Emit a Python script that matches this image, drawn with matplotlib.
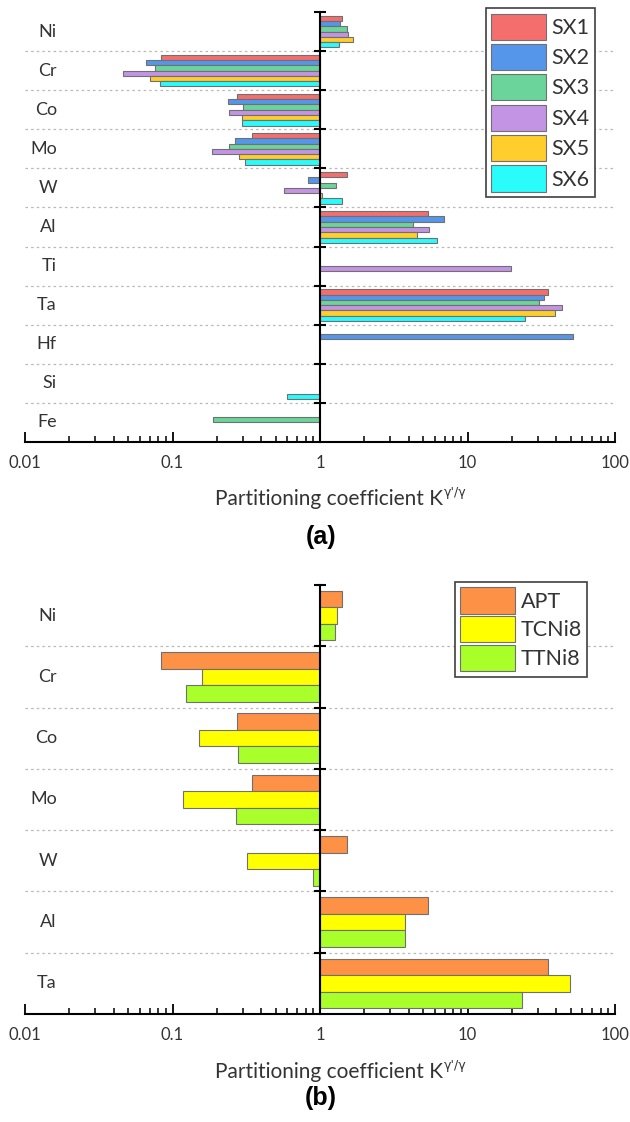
import numpy as np
import matplotlib
matplotlib.use('Agg')
import matplotlib.pyplot as plt
from matplotlib.ticker import LogLocator, NullFormatter, FixedFormatter, FixedLocator
import matplotlib.transforms as mtransforms

plt.rcParams['font.family'] = ['Lato', 'DejaVu Sans']

nan = np.nan

# panel (a): six single crystal alloys
elements_a = ['Ni', 'Cr', 'Co', 'Mo', 'W', 'Al', 'Ti', 'Ta', 'Hf', 'Si', 'Fe']
sx1 = [1.40, 0.084, 0.275, 0.344, 1.52, 5.37, nan, 35.3, nan, nan, nan]
sx2 = [1.37, 0.066, 0.237, 0.267, 0.833, 6.90, nan, 33.0, 51.6, nan, nan]
sx3 = [1.52, 0.076, 0.299, 0.242, 1.28, 4.27, nan, 30.6, nan, nan, 0.189]
sx4 = [1.54, 0.046, 0.240, 0.185, 0.570, 5.45, 19.8, 44.0, nan, nan, nan]
sx5 = [1.67, 0.070, 0.294, 0.284, 1.03, 4.52, nan, 39.5, nan, nan, nan]
sx6 = [1.34, 0.082, 0.294, 0.310, 1.42, 6.24, nan, 24.7, nan, 0.600, nan]
names_a = ['SX1', 'SX2', 'SX3', 'SX4', 'SX5', 'SX6']
colors_a = ['#F56E6E', '#5596EA', '#6AD49A', '#C394E4', '#FFCD2C', '#2AFCFC']

# panel (b): APT vs thermo-calc databases
elements_b = ['Ni', 'Cr', 'Co', 'Mo', 'W', 'Al', 'Ta']
apt = [1.40, 0.084, 0.275, 0.344, 1.52, 5.37, 35.3]
tcni8 = [1.31, 0.158, 0.151, 0.117, 0.321, 3.79, 49.8]
ttni8 = [1.27, 0.124, 0.279, 0.270, 0.892, 3.77, 23.5]
names_b = ['APT', 'TCNi8', 'TTNi8']
colors_b = ['#FD9146', '#FFFF00', '#A8FF2A']


def panel(ax, elements, series, names, colors, bar_h, leg_anchor, spacing):
    n = len(elements)
    m = len(series)
    y = np.arange(n)
    for i, (vals, c, nm) in enumerate(zip(series, colors, names)):
        vals = np.array(vals, dtype=float)
        off = (i - (m - 1) / 2) * bar_h
        ax.barh(y + off, vals - 1, left=1, height=bar_h, color=c,
                edgecolor='#707070', linewidth=0.8, label=nm, zorder=3)
    ax.set_xscale('log')
    ax.set_xlim(0.01, 100)
    ax.set_ylim(n - 0.5, -0.5)

    bounds = np.arange(n) - 0.5
    ax.hlines(bounds[1:], 0.01, 100, colors='#b8b8b8', linestyles=(0, (2, 2.5)),
              linewidth=0.9, zorder=1)

    for s in ['top', 'right']:
        ax.spines[s].set_visible(False)
    ax.spines['left'].set_position(('data', 1))
    ax.spines['left'].set_linewidth(1.5)
    ax.spines['bottom'].set_linewidth(1.5)
    ax.spines['left'].set_zorder(5)

    ax.yaxis.set_major_locator(FixedLocator(bounds))
    ax.yaxis.set_major_formatter(NullFormatter())
    ax.tick_params(axis='y', direction='inout', length=8, width=1.5)

    ax.xaxis.set_major_locator(FixedLocator([0.01, 0.1, 1, 10, 100]))
    ax.xaxis.set_major_formatter(FixedFormatter(['0.01', '0.1', '1', '10', '100']))
    ax.xaxis.set_minor_locator(LogLocator(base=10, subs=np.arange(2, 10)))
    ax.xaxis.set_minor_formatter(NullFormatter())
    ax.tick_params(axis='x', which='major', direction='in', length=7, width=1.3,
                   labelsize=12, pad=9, labelcolor='#333333')
    ax.tick_params(axis='x', which='minor', direction='in', length=4, width=1.1)

    trans = mtransforms.blended_transform_factory(ax.transAxes, ax.transData)
    for yi, el in zip(y, elements):
        ax.text(0.054, yi, el, transform=trans, ha='right', va='center',
                fontsize=13, color='#333333')

    leg = ax.legend(loc='upper right', bbox_to_anchor=leg_anchor, fontsize=15.5,
                    handlelength=2.55, handleheight=1.5, labelspacing=spacing,
                    handletextpad=0.25, borderpad=0.25, borderaxespad=0,
                    fancybox=False, framealpha=1, edgecolor='#404040')
    leg.get_frame().set_linewidth(1.2)
    for t in leg.get_texts():
        t.set_color('#333333')


fig = plt.figure(figsize=(6.3, 11.22), dpi=100)
ax1 = fig.add_axes([25 / 630, 1 - 442 / 1122, 590 / 630, 430 / 1122])
ax2 = fig.add_axes([25 / 630, 1 - 1014 / 1122, 590 / 630, 429 / 1122])

panel(ax1, elements_a, [sx1, sx2, sx3, sx4, sx5, sx6], names_a, colors_a,
      0.135, (0.966, 1.009), 0.19)
panel(ax2, elements_b, [apt, tcni8, ttni8], names_b, colors_b,
      0.27, (0.953, 1.007), 0.12)

# x label with the gamma'/gamma superscript as a second small text
for base in [505, 1078]:
    fig.text(443 / 630, 1 - base / 1122, 'Partitioning coefficient K', ha='right',
             va='baseline', fontsize=15, color='#333333')
    fig.text(443.5 / 630, 1 - (base - 9) / 1122, "\u03b3'/\u03b3", ha='left',
             va='baseline', fontsize=9, color='#333333',
             family=['DejaVu Sans'])

fig.text(321 / 630, 1 - 537 / 1122, '(a)', ha='center', va='center',
         fontsize=18, fontweight='bold', family='Liberation Sans')
fig.text(321 / 630, 1 - 1098 / 1122, '(b)', ha='center', va='center',
         fontsize=18, fontweight='bold', family='Liberation Sans')

fig.savefig('out.png', dpi=100)
